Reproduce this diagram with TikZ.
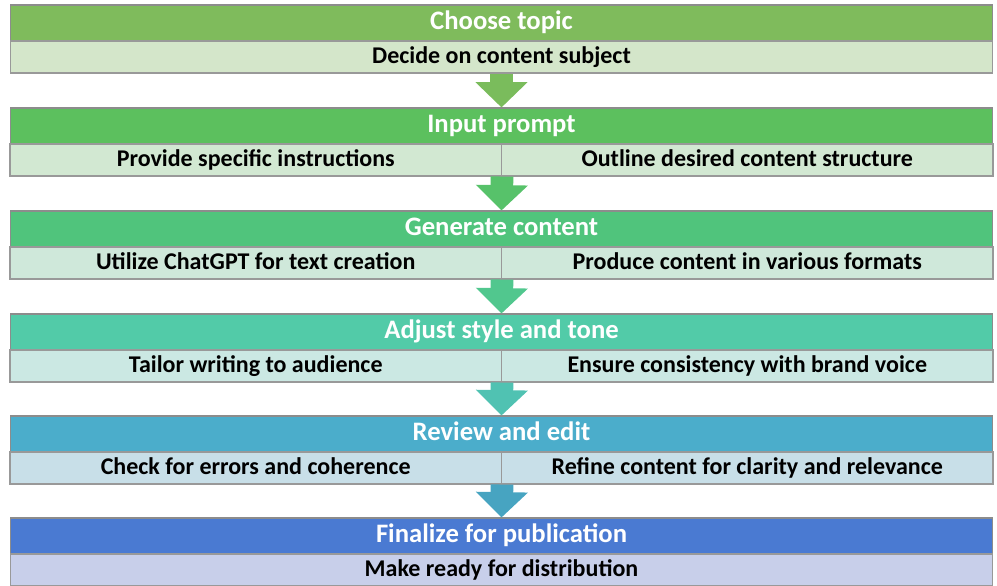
\documentclass[tikz,border=0pt]{standalone}
\usepackage{fontspec}
\setmainfont{Carlito}
\usetikzlibrary{arrows.meta}

\definecolor{hdA}{HTML}{7FBB5C}
\definecolor{hdB}{HTML}{5CC05E}
\definecolor{hdC}{HTML}{50C47C}
\definecolor{hdD}{HTML}{52CBA8}
\definecolor{hdE}{HTML}{4BADCB}
\definecolor{hdF}{HTML}{4A7AD2}
\definecolor{sbA}{HTML}{D4E6CA}
\definecolor{sbB}{HTML}{D2E8D2}
\definecolor{sbC}{HTML}{CFE8DA}
\definecolor{sbD}{HTML}{CBE8E3}
\definecolor{sbE}{HTML}{C8DFE8}
\definecolor{sbF}{HTML}{C8CFEA}

\begin{document}
\begin{tikzpicture}[
		x=0.75pt, y=-0.75pt,
		head/.style={draw=black!45, line width=0.8pt, minimum width=737pt, minimum height=27pt,
			inner sep=0pt, text height=14pt, text depth=4pt, text=white,
			font=\bfseries\fontsize{20}{24}\selectfont},
		sub/.style={draw=black!40, line width=0.8pt, minimum height=24pt, inner sep=0pt,
			text height=13pt, text depth=3pt, font=\bfseries\fontsize{18}{22}\selectfont},
		full/.style={sub, minimum width=737pt},
		half/.style={sub, minimum width=368.6pt},
		down/.style={line width=17pt, -{Triangle[width=38pt,length=19pt]}},
	]
		\useasboundingbox (0,0) rectangle (997,586);

		% steps
		\node[head, fill=hdA] (choose) at (501.5, 23) {Choose topic};
		\node[full, fill=sbA] (decide) at (501.5, 57) {Decide on content subject};

		\node[head, fill=hdB] (input) at (501.5, 126) {Input prompt};
		\node[half, fill=sbB] (provide) at (255.75, 160) {Provide specific instructions};
		\node[half, fill=sbB] (outline) at (747.25, 160) {Outline desired content structure};

		\node[head, fill=hdC] (generate) at (501.5, 229) {Generate content};
		\node[half, fill=sbC] (utilize) at (255.75, 263) {Utilize ChatGPT for text creation};
		\node[half, fill=sbC] (produce) at (747.25, 263) {Produce content in various formats};

		\node[head, fill=hdD] (adjust) at (501.5, 332) {Adjust style and tone};
		\node[half, fill=sbD] (tailor) at (255.75, 366) {Tailor writing to audience};
		\node[half, fill=sbD] (ensure) at (747.25, 366) {Ensure consistency with brand voice};

		\node[head, fill=hdE] (review) at (501.5, 434) {Review and edit};
		\node[half, fill=sbE] (check) at (255.75, 468) {Check for errors and coherence};
		\node[half, fill=sbE] (refine) at (747.25, 468) {Refine content for clarity and relevance};

		\node[head, fill=hdF] (finalize) at (501.5, 536) {Finalize for publication};
		\node[full, fill=sbF] (ready) at (501.5, 570) {Make ready for distribution};

		% arrows between steps
		\draw[down, hdA!85!hdB] (decide.south) -- (input.north);
		\draw[down, hdB!60!hdC] (provide.south east) -- (generate.north);
		\draw[down, hdC!60!hdD] (utilize.south east) -- (adjust.north);
		\draw[down, hdD!70!hdE] (tailor.south east) -- (review.north);
		\draw[down, hdE!95!black] (check.south east) -- (finalize.north);
	\end{tikzpicture}
\end{document}
